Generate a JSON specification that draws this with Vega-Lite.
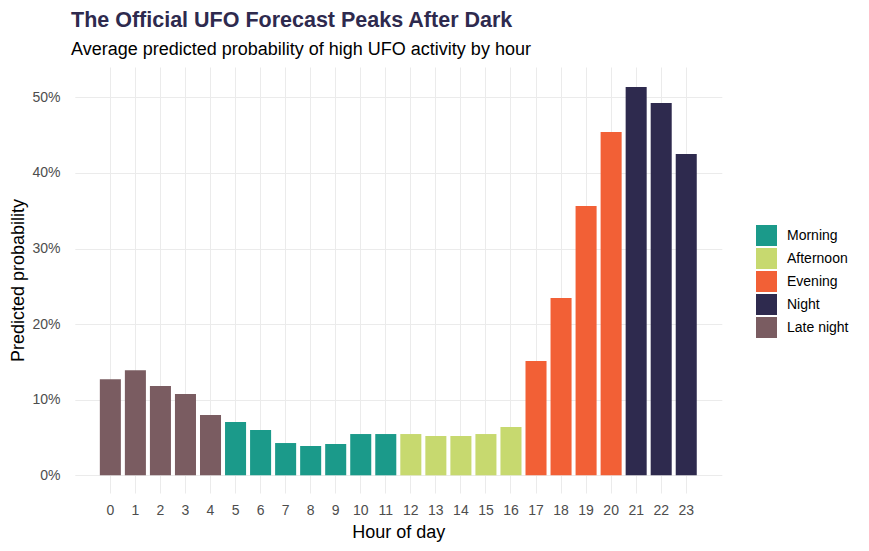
{
  "$schema": "https://vega.github.io/schema/vega-lite/v6.json",
  "autosize": {"type": "none"},
  "padding": {"left": 70, "top": 67, "right": 142, "bottom": 58},
  "width": 657,
  "height": 426,
  "background": "white",
  "title": {
    "text": "The Official UFO Forecast Peaks After Dark",
    "subtitle": "Average predicted probability of high UFO activity by hour",
    "anchor": "start",
    "frame": "group",
    "font": "Liberation Sans",
    "fontSize": 21.5,
    "fontWeight": "bold",
    "color": "#2E2A4E",
    "subtitleFont": "Liberation Sans",
    "subtitleFontSize": 18,
    "subtitleColor": "#000000",
    "subtitlePadding": 10,
    "offset": 8,
    "dx": 1
  },
  "data": {
    "values": [
      {"hour": 0, "prob": 0.127, "period": "Late night"},
      {"hour": 1, "prob": 0.139, "period": "Late night"},
      {"hour": 2, "prob": 0.118, "period": "Late night"},
      {"hour": 3, "prob": 0.1075, "period": "Late night"},
      {"hour": 4, "prob": 0.0797, "period": "Late night"},
      {"hour": 5, "prob": 0.0705, "period": "Morning"},
      {"hour": 6, "prob": 0.060, "period": "Morning"},
      {"hour": 7, "prob": 0.0427, "period": "Morning"},
      {"hour": 8, "prob": 0.0388, "period": "Morning"},
      {"hour": 9, "prob": 0.0414, "period": "Morning"},
      {"hour": 10, "prob": 0.0546, "period": "Morning"},
      {"hour": 11, "prob": 0.0546, "period": "Morning"},
      {"hour": 12, "prob": 0.0546, "period": "Afternoon"},
      {"hour": 13, "prob": 0.052, "period": "Afternoon"},
      {"hour": 14, "prob": 0.052, "period": "Afternoon"},
      {"hour": 15, "prob": 0.0546, "period": "Afternoon"},
      {"hour": 16, "prob": 0.0639, "period": "Afternoon"},
      {"hour": 17, "prob": 0.1512, "period": "Evening"},
      {"hour": 18, "prob": 0.2345, "period": "Evening"},
      {"hour": 19, "prob": 0.3562, "period": "Evening"},
      {"hour": 20, "prob": 0.4541, "period": "Evening"},
      {"hour": 21, "prob": 0.5136, "period": "Night"},
      {"hour": 22, "prob": 0.4925, "period": "Night"},
      {"hour": 23, "prob": 0.425, "period": "Night"}
    ]
  },
  "mark": {"type": "bar"},
  "encoding": {
    "x": {
      "field": "hour",
      "type": "ordinal",
      "scale": {"paddingInner": 0.16, "paddingOuter": 1, "range": [4.8, 651.8]},
      "axis": {
        "title": "Hour of day",
        "labelAngle": 0,
        "bandPosition": 0.5,
        "grid": true,
        "gridColor": "#EBEBEB",
        "gridWidth": 1,
        "domain": false,
        "ticks": false,
        "tickSize": 0,
        "labelPadding": 10,
        "labelFont": "Liberation Sans",
        "labelFontSize": 14,
        "labelColor": "#4D4D4D",
        "titleFont": "Liberation Sans",
        "titleFontSize": 18,
        "titleFontWeight": "normal",
        "titleColor": "#000000",
        "titlePadding": 6
      }
    },
    "y": {
      "field": "prob",
      "type": "quantitative",
      "scale": {"domain": [-0.0234, 0.5401], "zero": false, "nice": false},
      "axis": {
        "title": "Predicted probability",
        "values": [0, 0.1, 0.2, 0.3, 0.4, 0.5],
        "format": ".0%",
        "grid": true,
        "gridColor": "#EBEBEB",
        "gridWidth": 1,
        "domain": false,
        "ticks": false,
        "tickSize": 0,
        "labelPadding": 10,
        "labelFont": "Liberation Sans",
        "labelFontSize": 14,
        "labelColor": "#4D4D4D",
        "titleFont": "Liberation Sans",
        "titleFontSize": 18,
        "titleFontWeight": "normal",
        "titleColor": "#000000",
        "titlePadding": 4
      }
    },
    "y2": {"datum": 0},
    "color": {
      "field": "period",
      "type": "nominal",
      "scale": {
        "domain": ["Morning", "Afternoon", "Evening", "Night", "Late night"],
        "range": ["#1B9A8A", "#C7D96F", "#F26036", "#2E2A4E", "#7A5C61"]
      },
      "legend": {
        "title": null,
        "orient": "none",
        "legendX": 686,
        "legendY": 158,
        "symbolType": "square",
        "symbolSize": 441,
        "symbolStrokeWidth": 0,
        "symbolOpacity": 1,
        "rowPadding": 2,
        "labelOffset": 10,
        "labelFont": "Liberation Sans",
        "labelFontSize": 14,
        "labelColor": "#000000",
        "padding": 0
      }
    }
  },
  "config": {
    "view": {"stroke": null}
  }
}
